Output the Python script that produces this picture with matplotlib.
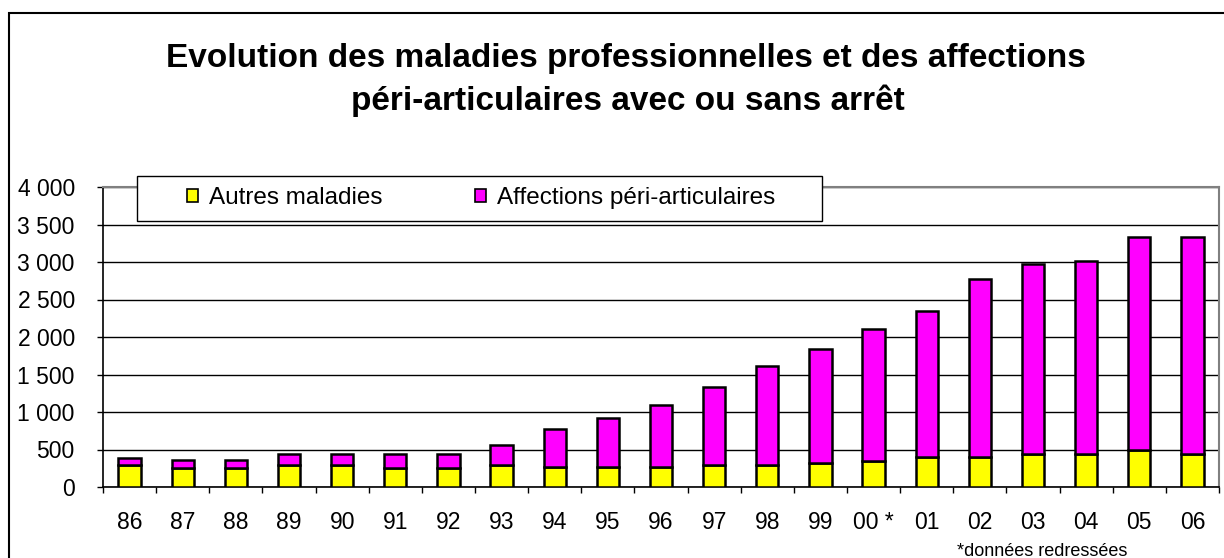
import numpy as np
import matplotlib
matplotlib.use("Agg")
import matplotlib.pyplot as plt
from matplotlib.patches import Rectangle, Patch
from matplotlib.ticker import FuncFormatter

plt.rcParams['font.family'] = ['Liberation Sans', 'DejaVu Sans']

# donnees
annees = ['86', '87', '88', '89', '90', '91', '92', '93', '94', '95', '96',
          '97', '98', '99', '00 *', '01', '02', '03', '04', '05', '06']
autres = [290, 260, 260, 290, 290, 260, 260, 290, 265, 265, 265,
          290, 290, 320, 350, 400, 400, 440, 440, 500, 440]
affections = [100, 100, 100, 155, 155, 185, 185, 275, 510, 650, 835,
              1045, 1320, 1525, 1760, 1950, 2370, 2540, 2570, 2840, 2900]

W, H = 1224, 558
fig = plt.figure(figsize=(W / 100, H / 100), dpi=100)

# cadre exterieur
fig.patches.append(Rectangle((9 / W, -0.05), 1.2, 1.05 - 13 / H, transform=fig.transFigure,
                             fill=False, edgecolor='black', linewidth=1.5, zorder=0))

ax = fig.add_axes([103 / W, 71 / H, (1219 - 103) / W, 300 / H])

x = np.arange(len(annees))
ax.bar(x, autres, width=0.42, color='#FFFF00', edgecolor='black', linewidth=1.8,
       label='Autres maladies', zorder=3)
ax.bar(x, affections, width=0.42, bottom=autres, color='#FF00FF', edgecolor='black',
       linewidth=1.8, label='Affections péri-articulaires', zorder=3)

ax.set_xlim(-0.5, len(annees) - 0.5)
ax.set_ylim(0, 4000)
ax.set_yticks(np.arange(0, 4001, 500))
ax.yaxis.set_major_formatter(FuncFormatter(lambda v, p: f"{int(v):,}".replace(',', ' ')))
ax.grid(axis='y', color='black', linewidth=1, zorder=0)

ax.set_xticks(x)
ax.set_xticklabels(annees)
ax.set_xticks(np.arange(-0.5, len(annees), 1), minor=True)
ax.tick_params(axis='x', which='major', length=0, pad=17, labelsize=16.5)
ax.tick_params(axis='x', which='minor', length=4.3, width=1, direction='out')
ax.tick_params(axis='y', length=4.3, width=1, pad=16, labelsize=16.5)

for s in ['left', 'bottom']:
    ax.spines[s].set_color('black')
    ax.spines[s].set_linewidth(1.2)
for s in ['top', 'right']:
    ax.spines[s].set_color('#808080')
    ax.spines[s].set_linewidth(1.5)

# titre
fig.text(0.511, 1 - 58 / H, "Evolution des maladies professionnelles et des affections",
         ha='center', va='center', fontsize=24, fontweight='bold')
fig.text(0.513, 1 - 101 / H, "péri-articulaires avec ou sans arrêt",
         ha='center', va='center', fontsize=24, fontweight='bold')

# legende
fig.patches.append(Rectangle((137 / W, 1 - 221 / H), (822 - 137) / W, 45 / H,
                             transform=fig.transFigure, facecolor='white',
                             edgecolor='black', linewidth=1, zorder=5))
poignees = [Patch(facecolor='#FFFF00', edgecolor='black', linewidth=1.2),
            Patch(facecolor='#FF00FF', edgecolor='black', linewidth=1.2)]
leg = fig.legend(poignees, ['Autres maladies', 'Affections péri-articulaires'],
                 loc='center', bbox_to_anchor=(481 / W, 1 - 198 / H), ncol=2,
                 frameon=False, fontsize=17.5, handlelength=0.45, handleheight=0.45,
                 handletextpad=0.45, columnspacing=3.8)
leg.set_zorder(6)

fig.text(1042 / W, 1 - 556 / H, "*données redressées", ha='center', va='baseline',
         fontsize=13)

fig.savefig('out.png', dpi=100)
